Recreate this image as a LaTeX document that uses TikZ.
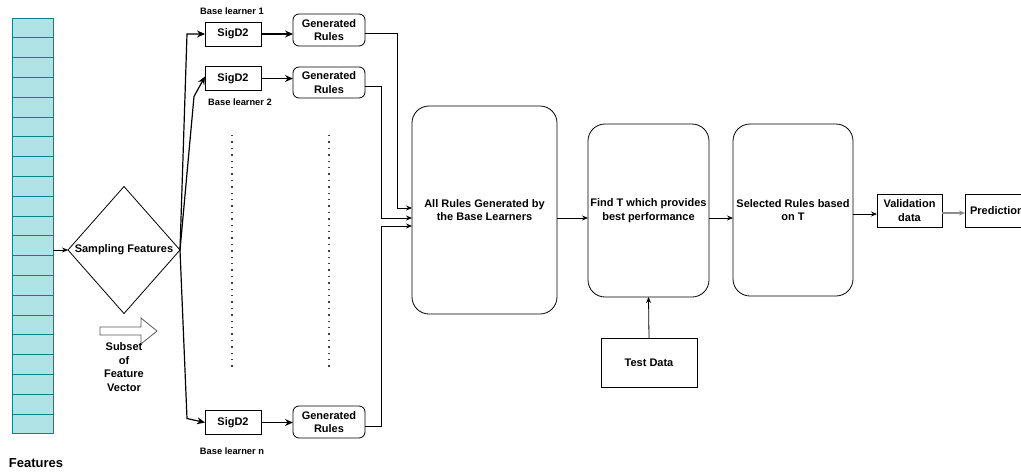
\documentclass[tikz,border=0pt]{standalone}
\usepackage{fontspec}
\setmainfont{Liberation Sans}
\usetikzlibrary{arrows.meta,shapes.geometric,positioning}

\definecolor{cellfill}{HTML}{B0E3E6}
\definecolor{celldraw}{HTML}{0E8088}

\begin{document}
\begin{tikzpicture}[x=1pt,y=-1pt,
	txt/.style={font=\fontsize{11}{13.5}\selectfont\bfseries, align=center, inner sep=0pt, outer sep=0pt},
	small/.style={font=\fontsize{9.3}{11}\selectfont\bfseries, inner sep=0pt},
	box/.style={txt, draw, line width=0.8pt},
	rbox/.style={box, rounded corners=6pt},
	bigbox/.style={box, rounded corners=17pt},
	cell/.style={fill=cellfill, draw=celldraw, line width=0.8pt},
	flow/.style={line width=0.8pt, -{Stealth[length=6pt,width=5pt]}},
	fan/.style={line width=1.2pt, -{Stealth[length=8pt,width=7pt]}},
	dots/.style={line width=1.3pt, draw=black!75, dash pattern=on 1.3pt off 5.1pt}]
			%%%%% START %%%%%
			\useasboundingbox (0,0) rectangle (1021,474);
			\clip (0,0) rectangle (1021,474);
			
			% feature vector
			\foreach \i in {0,...,20}
				\draw[cell] (12,{18+\i*19.8}) rectangle ++(41,19.8);
			\coordinate (featout) at (53,250);
			\node[txt, font=\fontsize{13}{15}\selectfont\bfseries] (featlbl) at (36,463) {Features};
			
			% sampling
			\node[txt, draw, diamond, line width=0.8pt, minimum width=112pt, minimum height=127pt] (samp) at (124,250) {Sampling Features};
			\draw[flow] (featout) -- (samp.west);
			
			\draw[line width=0.8pt, draw=black!65] (100,327) -- (141,327) -- (141,318) -- (157,331) -- (141,344) -- (141,335) -- (100,335) -- cycle;
			\node[txt] (subset) at (124,367) {Subset\\of\\Feature\\Vector};
			
			% base learners
			\node[box, minimum width=56pt, minimum height=24pt] (sig1) at (233,34) {SigD2};
			\node[box, minimum width=56pt, minimum height=24pt] (sig2) at (233,78.5) {SigD2};
			\node[box, minimum width=56pt, minimum height=24pt] (sign) at (233,422.5) {SigD2};
			\node[small] (bl1) at (232,11) {Base learner 1};
			\node[small] (bl2) at (240,102) {Base learner 2};
			\node[small] (bln) at (232,451) {Base learner n};
			
			\node[rbox, minimum width=72pt, minimum height=32pt] (gen1) at (329,30) {Generated\\Rules};
			\node[rbox, minimum width=72pt, minimum height=31pt] (gen2) at (329,82.5) {Generated\\Rules};
			\node[rbox, minimum width=72pt, minimum height=32pt] (genn) at (329,422) {Generated\\Rules};
			
			\draw[fan] (samp.east) -- ([xshift=-18pt]sig1.west) -- (sig1.west);
			\draw[fan] (samp.east) -- ([xshift=-11pt,yshift=-18pt]sig2.west) -- ([yshift=2pt]sig2.west);
			\draw[fan] (samp.east) -- ([xshift=-18pt,yshift=4pt]sign.west) -- (sign.west);
			
			\draw[fan] (sig1.east) -- (sig1.east -| gen1.west);
			\draw[fan] (sig2.east) -- (sig2.east -| gen2.west);
			\draw[fan] (sign.east) -- (sign.east -| genn.west);
			
			\draw[dots] (232,135) -- (232,367);
			\draw[dots] (329,135) -- (329,367);
			
			% rule selection
			\node[bigbox, minimum width=145pt, minimum height=208pt] (allr) at (484.5,210) {All Rules Generated by\\the Base Learners};
			\node[bigbox, minimum width=121pt, minimum height=173pt] (findt) at (648.5,210.5) {Find T which provides\\best performance};
			\node[box, minimum width=96pt, minimum height=49pt] (test) at (649,362.5) {Test Data};
			\node[bigbox, minimum width=120pt, minimum height=172pt] (sel) at (793,210) {Selected Rules based\\on T};
			\node[box, minimum width=65pt, minimum height=33pt] (valid) at (909.5,210.5) {Validation\\data};
			\node[box, minimum width=64pt, minimum height=33pt] (pred) at (997,210.5) {Prediction};
			
			\draw[flow] ([yshift=-3pt]gen1.east) -- ++(32,0) |- ([yshift=2pt]allr.west);
			\draw[flow] ([yshift=-4pt]gen2.east) -- ++(16,0) |- ([yshift=-8pt]allr.west);
			\draw[flow] ([yshift=-4pt]genn.east) -- ++(16,0) |- ([yshift=-16pt]allr.west);
			
			\draw[flow] ([yshift=-8pt]allr.east) -- ([yshift=-8pt]allr.east -| findt.west);
			\draw[flow] (test.north) -- (findt.south);
			\draw[flow] ([yshift=-7.5pt]findt.east) -- ([yshift=-7.5pt]findt.east -| sel.west);
			\draw[flow] ([yshift=-4pt]sel.east) -- ([yshift=-4pt]sel.east -| valid.west);
			\draw[flow, draw=black!45, line width=1.6pt] ([yshift=-2.5pt]valid.east) -- ([yshift=-2.5pt]valid.east -| pred.west);
			%%%%% END %%%%%
\end{tikzpicture}
\end{document}
